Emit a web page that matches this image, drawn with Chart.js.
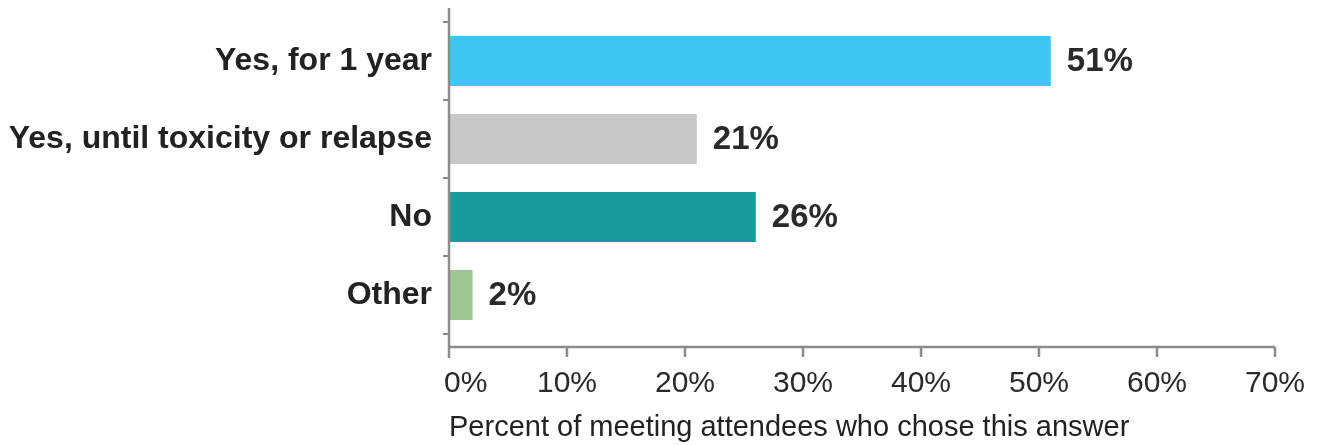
<!DOCTYPE html>
<html>
<head>
<meta charset="utf-8">
<script src="https://cdn.jsdelivr.net/npm/chart.js@4.4.1/dist/chart.umd.min.js"></script>
<style>
  html, body { margin: 0; padding: 0; background: #fff; }
  #wrap { width: 1324px; height: 445px; }
</style>
</head>
<body>
<div id="wrap"><canvas id="answers"></canvas></div>
<script>
// answers and percents
const answers = ['Yes, for 1 year', 'Yes, until toxicity or relapse', 'No', 'Other']
const percents = [51, 21, 26, 2]
const barColors = ['#3ec6f1', '#c8c8c8', '#1b9a9b', '#9dc690']
const xTicks = [0, 10, 20, 30, 40, 50, 60, 70]

const AXIS_COLOR = '#8c8c8c'

// draws the long axis lines, x tick marks and the value labels next to each bar
const axesAndLabels = {
    id: 'axesAndLabels',
    afterDatasetsDraw(chart) {
        const ctx = chart.ctx
        const area = chart.chartArea
        const x = chart.scales.x
        const axisY = area.bottom + 13
        ctx.save()
        ctx.strokeStyle = AXIS_COLOR
        ctx.lineWidth = 2.5
        ctx.beginPath()
        ctx.moveTo(area.left, area.top - 14)
        ctx.lineTo(area.left, axisY + 11)
        ctx.moveTo(area.left, axisY)
        ctx.lineTo(area.right, axisY)
        xTicks.forEach(function (t) {
            const px = x.getPixelForValue(t)
            ctx.moveTo(px, axisY)
            ctx.lineTo(px, axisY + 10)
        })
        ctx.stroke()

        // value labels
        const meta = chart.getDatasetMeta(0)
        ctx.fillStyle = '#2a2a2a'
        ctx.font = 'bold 33px "Liberation Sans", Arial, sans-serif'
        ctx.textAlign = 'left'
        ctx.textBaseline = 'middle'
        meta.data.forEach(function (bar, i) {
            ctx.fillText(percents[i] + '%', bar.x + 16, bar.y + 1)
        })
        ctx.restore()
    }
}

new Chart(document.getElementById('answers'), {
    type: 'bar',
    data: {
        labels: answers,
        datasets: [{
            data: percents,
            backgroundColor: barColors,
            borderWidth: 0,
            categoryPercentage: 1,
            barPercentage: 0.64
        }]
    },
    options: {
        indexAxis: 'y',
        responsive: true,
        maintainAspectRatio: false,
        animation: false,
        layout: { padding: { top: 22, right: 49, left: 0, bottom: 0 } },
        plugins: {
            legend: { display: false },
            tooltip: { enabled: false }
        },
        scales: {
            y: {
                afterFit: function (s) {
                    s.width = 449
                    s.paddingTop = 0
                    s.paddingBottom = 0
                },
                border: { display: false },
                grid: {
                    drawOnChartArea: false,
                    tickLength: 6,
                    color: AXIS_COLOR,
                    lineWidth: 2
                },
                ticks: {
                    padding: 11,
                    color: '#222',
                    font: { family: '"Liberation Sans", Arial, sans-serif', size: 32, weight: 'bold' }
                }
            },
            x: {
                min: 0,
                max: 70,
                afterFit: function (s) {
                    s.height = 111
                    s.paddingLeft = 0
                    s.paddingRight = 0
                },
                border: { display: false },
                grid: { display: false },
                ticks: {
                    stepSize: 10,
                    padding: 24,
                    maxRotation: 0,
                    color: '#2a2a2a',
                    font: { family: '"Liberation Sans", Arial, sans-serif', size: 30 },
                    // the 0% label sits a little right of its tick in the original
                    callback: function (v) { return v === 0 ? '    0%' : v + '%' }
                },
                title: {
                    display: true,
                    align: 'start',
                    text: 'Percent of meeting attendees who chose this answer',
                    color: '#222',
                    padding: { top: 0, bottom: 0 },
                    font: { family: '"Liberation Sans", Arial, sans-serif', size: 29 }
                }
            }
        }
    },
    plugins: [axesAndLabels]
})
</script>
</body>
</html>
